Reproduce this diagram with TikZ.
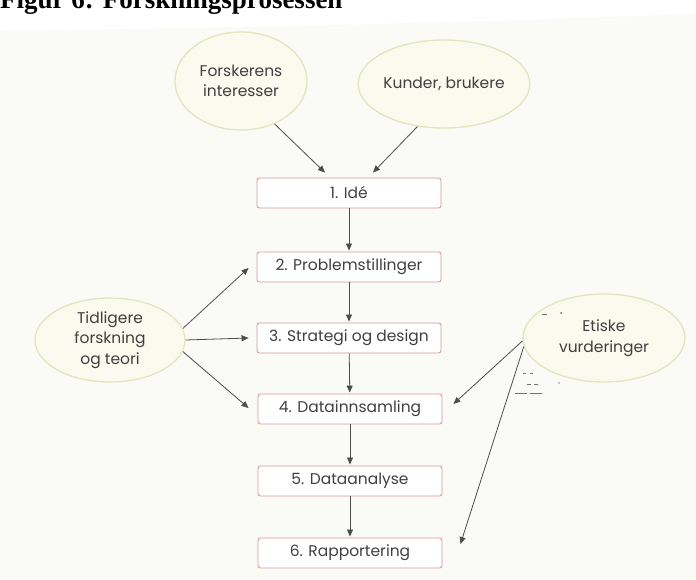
\documentclass[tikz,border=0pt]{standalone}
\usepackage{fontspec}
\setmainfont{Poppins}
\newfontfamily\titlefont{Liberation Serif}
\usetikzlibrary{arrows.meta,shapes.geometric,calc}
\definecolor{bg}{HTML}{FAFAF7}
\definecolor{ellfill}{HTML}{FAFAEF}
\definecolor{elldraw}{HTML}{E2E6BC}
\definecolor{boxdraw}{HTML}{D59A9A}
\definecolor{txt}{HTML}{404040}
\definecolor{arr}{HTML}{4D4D4D}
\begin{document}
\begin{tikzpicture}[x=1pt,y=-1pt,
  stepbox/.style={draw=boxdraw,line width=0.9pt,fill=white,rounded corners=2.5pt,
    minimum width=184pt,minimum height=30pt,inner sep=0pt,text=txt,font=\fontsize{15.5}{18}\selectfont},
  oval/.style={ellipse,draw=elldraw,line width=1.3pt,fill=ellfill,inner sep=0pt,
    text=txt,align=center,font=\fontsize{15.5}{20.5}\selectfont},
  arrowline/.style={draw=arr,line width=0.8pt,-{Triangle[length=7pt,width=6pt]}},
  smudge/.style={draw=arr!80,line width=1pt}]
\useasboundingbox (0,0) rectangle (696,579);
\clip (0,0) rectangle (696,579);
\fill[bg] (0,31) -- (300,26) -- (520,20) -- (696,14) -- (696,579) -- (0,579) -- cycle;
% title (cut off at top, as in the reference)
\node[anchor=base west,inner sep=0pt,font=\titlefont\bfseries\fontsize{27}{30}\selectfont] (title) at (0,8) {Figur 6: Forskningsprosessen};
% ellipses
\node[oval,minimum width=132pt,minimum height=98pt] (e1) at (241,81) {Forskerens\\interesser};
\node[oval,minimum width=152pt,minimum height=88pt] (e2) at (444,84) {Kunder, brukere};
\node[oval,minimum width=150pt,minimum height=84pt] (e3) at (110,340) {Tidligere\\forskning\\og teori};
\node[oval,minimum width=162pt,minimum height=88pt] (e4) at (604,338) {Etiske\\vurderinger};
% boxes
\node[stepbox] (b1) at (349,193) {1. Idé};
\node[stepbox] (b2) at (349,267) {2. Problemstillinger};
\node[stepbox] (b3) at (349,338) {3. Strategi og design};
\node[stepbox] (b4) at (350,409) {4. Datainnsamling};
\node[stepbox] (b5) at (350,481) {5. Dataanalyse};
\node[stepbox] (b6) at (350,553) {6. Rapportering};
% vertical flow
\draw[arrowline,shorten >=1pt] (b1) -- (b2);
\draw[arrowline,shorten >=1pt] (b2) -- (b3);
\draw[arrowline,shorten >=1pt] (b3) -- (b4);
\draw[arrowline,shorten >=1pt] (b4) -- (b5);
\draw[arrowline,shorten >=1pt] (b5) -- (b6);
% top inputs
\draw[arrowline] (e1.-52) -- ([xshift=-24pt,yshift=5pt]b1.north);
\draw[arrowline] (e2.-122) -- ([xshift=24pt,yshift=5pt]b1.north);
% left inputs
\draw[arrowline] (e3.9) -- ([xshift=-8pt,yshift=-1pt]b2.west);
\draw[arrowline] (e3.0) -- ([xshift=-8pt]b3.west);
\draw[arrowline] (e3.-9) -- ([xshift=-9pt,yshift=1pt]b4.west);
% right inputs
\draw[arrowline] (e4.182) -- ([xshift=11pt,yshift=5pt]b4.east);
\draw[arrowline] (e4.186) -- ([xshift=18pt,yshift=9pt]b6.east);
% scan smudges
\draw[smudge] (542,314) -- (547,314);
\fill[arr!80] (561,313) circle (1pt);
\draw[smudge,line width=0.7pt] (523,373) -- (526,373) (530,373) -- (533,373);
\draw[smudge,line width=0.7pt] (527,384) -- (531,384) (534,384) -- (538,384);
\draw[smudge,line width=0.9pt] (515,393) -- (527,393) (530,393) -- (542,393);
\fill[arr!60] (559,383) circle (0.8pt);
\end{tikzpicture}
\end{document}
